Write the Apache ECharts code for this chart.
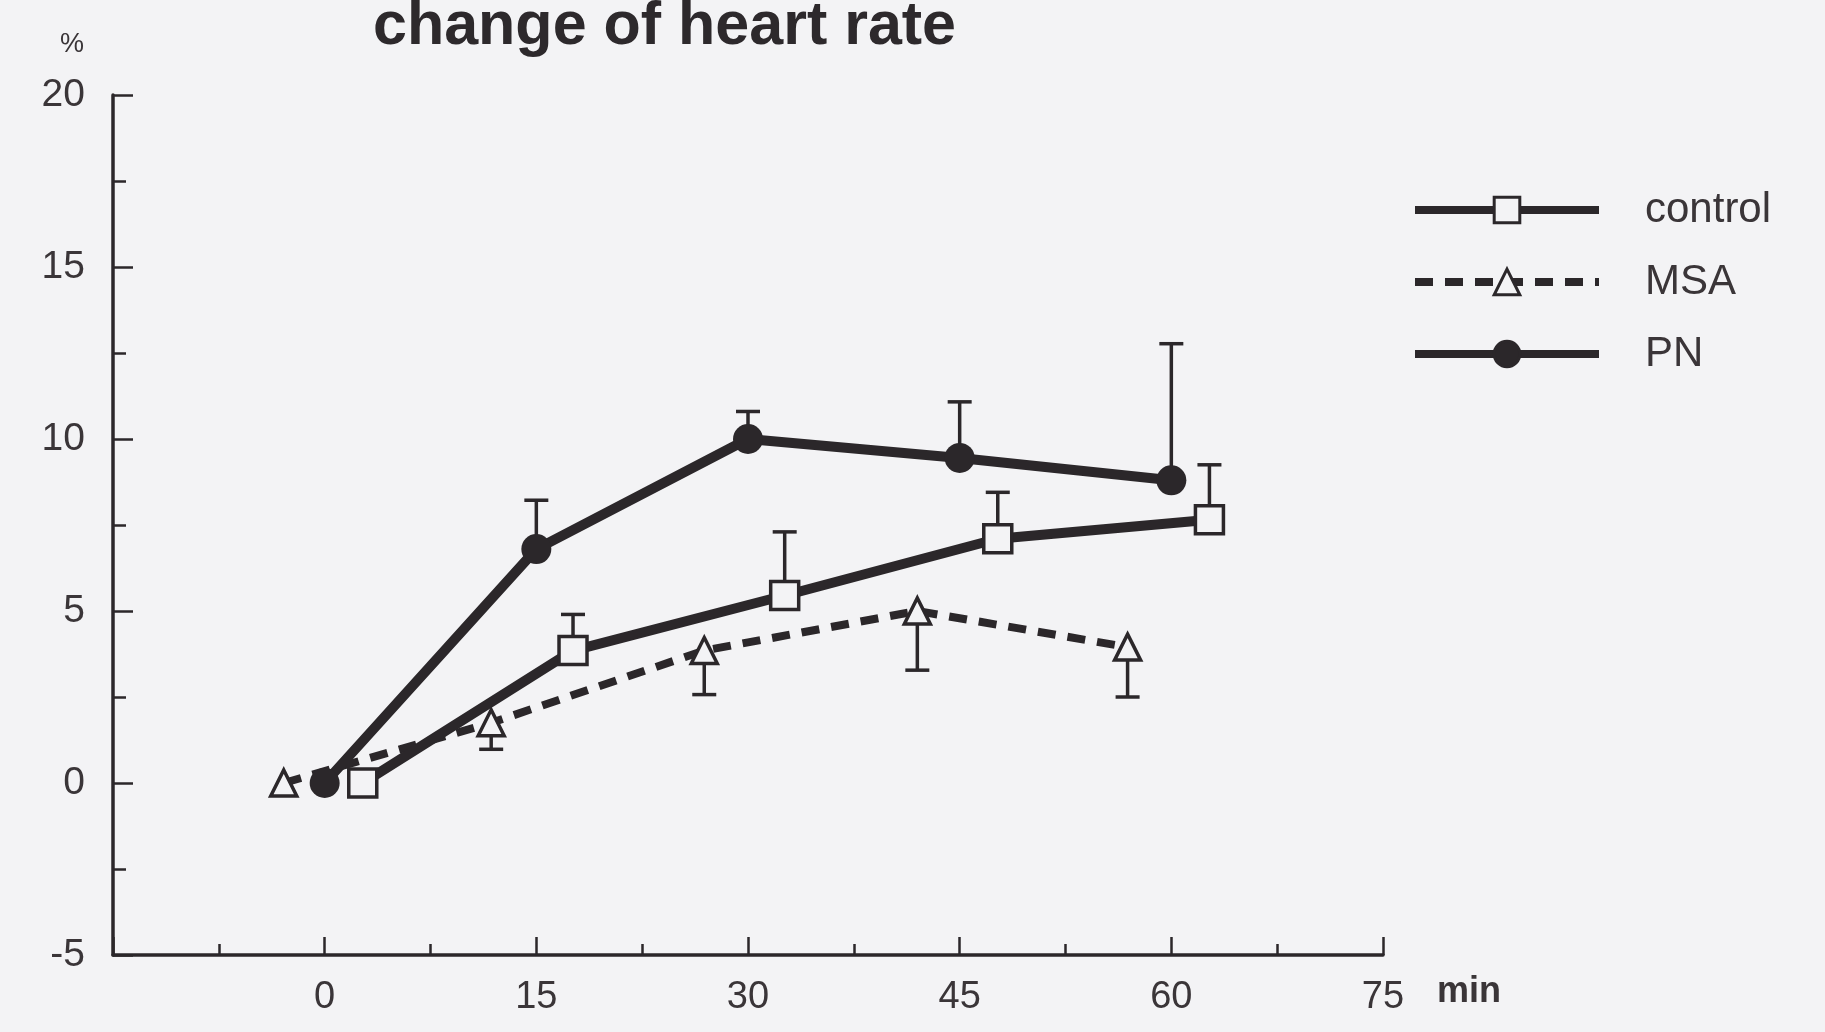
<!DOCTYPE html>
<html>
<head>
<meta charset="utf-8">
<script src="https://cdn.jsdelivr.net/npm/echarts@6/dist/echarts.min.js"></script>
<style>
html,body{margin:0;padding:0;background:#f3f3f5;}
#chart{width:1825px;height:1032px;}
</style>
</head>
<body>
<div id="chart"></div>
<script>
// ---- data ----
const seriesNames = ['control', 'MSA', 'PN'];
const controlX = [2.7, 17.6, 32.6, 47.7, 62.7];
const controlY = [0, 3.85, 5.45, 7.1, 7.65];
const controlErrEnd = [null, 4.9, 7.3, 8.45, 9.25];
const msaX = [-2.9, 11.8, 26.9, 42.0, 56.9];
const msaY = [0, 1.75, 3.85, 5.0, 3.95];
const msaErrEnd = [null, 0.98, 2.57, 3.28, 2.5];
const pnX = [0, 15, 30, 45, 60];
const pnY = [0, 6.8, 10.0, 9.45, 8.8];
const pnErrEnd = [null, 8.22, 10.8, 11.08, 12.77];
const xTicks = [-15, 0, 15, 30, 45, 60, 75];
const yTicks = [-5, 0, 5, 10, 15, 20];

const INK = '#2b272a';
const TXT = '#3a3538';
const BG = '#f3f3f5';
const FONT = '"Liberation Sans", Arial, Helvetica, sans-serif';

function pts(xs, ys) { return xs.map((x, i) => [x, ys[i]]); }
function errPts(xs, ys, es) {
  const out = [];
  xs.forEach((x, i) => { if (es[i] !== null) out.push([x, ys[i], es[i]]); });
  return out;
}
function errSeries(name, data) {
  return {
    type: 'custom', name: name, z: 1, silent: true,
    data: data,
    renderItem: function (params, api) {
      const x = api.value(0), y0 = api.value(1), y1 = api.value(2);
      const p0 = api.coord([x, y0]), p1 = api.coord([x, y1]);
      const hw = 12;
      return {
        type: 'group', children: [
          {type: 'line', shape: {x1: p0[0], y1: p0[1], x2: p1[0], y2: p1[1]}, style: {stroke: INK, lineWidth: 3.5}},
          {type: 'line', shape: {x1: p1[0] - hw, y1: p1[1], x2: p1[0] + hw, y2: p1[1]}, style: {stroke: INK, lineWidth: 3.5}}
        ]
      };
    }
  };
}

const chart = echarts.init(document.getElementById('chart'), null, {renderer: 'canvas'});
chart.setOption({
  backgroundColor: BG,
  animation: false,
  title: {
    text: 'change of heart rate',
    left: 368, top: -8,
    textStyle: {fontFamily: FONT, fontWeight: 'bold', fontSize: 61, color: '#2d292c'}
  },
  grid: {left: 113, right: 442, top: 95, bottom: 77, outerBoundsMode: 'none'},
  legend: {
    orient: 'vertical', left: 1411, top: 189, padding: 0,
    itemWidth: 184, itemHeight: 32, itemGap: 30,
    data: seriesNames,
    lineStyle: {width: 8},
    itemStyle: {borderWidth: 3},
    textStyle: {fontFamily: FONT, fontSize: 42, color: TXT, lineHeight: 32, height: 32, padding: [0, 0, 0, 41]}
  },
  xAxis: {
    type: 'value', min: xTicks[0], max: xTicks[xTicks.length - 1], interval: 15,
    axisLine: {onZero: false, lineStyle: {color: INK, width: 3.5}},
    axisTick: {inside: true, length: 18, lineStyle: {color: INK, width: 2.5}},
    minorTick: {show: true, splitNumber: 2, length: 11, lineStyle: {color: INK, width: 2.5}},
    splitLine: {show: false}, minorSplitLine: {show: false},
    axisLabel: {
      margin: 24, fontFamily: FONT, fontSize: 38, color: TXT,
      formatter: function (v) { return v === xTicks[0] ? '' : String(v); }
    }
  },
  yAxis: {
    type: 'value', min: yTicks[0], max: yTicks[yTicks.length - 1], interval: 5,
    axisLine: {onZero: false, lineStyle: {color: INK, width: 3.5}},
    axisTick: {inside: true, length: 20, lineStyle: {color: INK, width: 2.5}},
    minorTick: {show: true, splitNumber: 2, length: 13, lineStyle: {color: INK, width: 2.5}},
    splitLine: {show: false}, minorSplitLine: {show: false},
    axisLabel: {margin: 28, fontFamily: FONT, fontSize: 39, color: TXT}
  },
  graphic: [
    {type: 'text', left: 60, top: 31, style: {text: '%', fontFamily: FONT, fontSize: 27, fill: TXT}},
    {type: 'text', left: 1437, top: 974, style: {text: 'min', fontFamily: FONT, fontWeight: 'bold', fontSize: 36, fill: TXT}}
  ],
  series: [
    errSeries('controlErr', errPts(controlX, controlY, controlErrEnd)),
    errSeries('msaErr', errPts(msaX, msaY, msaErrEnd)),
    errSeries('pnErr', errPts(pnX, pnY, pnErrEnd)),
    {
      name: 'MSA', type: 'line', z: 3, data: pts(msaX, msaY),
      symbol: 'triangle', symbolSize: 26,
      lineStyle: {color: INK, width: 8, type: [18, 12]},
      itemStyle: {color: BG, borderColor: INK, borderWidth: 3.5}
    },
    {
      name: 'control', type: 'line', z: 4, data: pts(controlX, controlY),
      symbol: 'rect', symbolSize: 28,
      lineStyle: {color: INK, width: 10},
      itemStyle: {color: BG, borderColor: INK, borderWidth: 3.5}
    },
    {
      name: 'PN', type: 'line', z: 5, data: pts(pnX, pnY),
      symbol: 'circle', symbolSize: 30,
      lineStyle: {color: INK, width: 10},
      itemStyle: {color: INK, borderColor: INK, borderWidth: 0}
    }
  ]
});
</script>
</body>
</html>
